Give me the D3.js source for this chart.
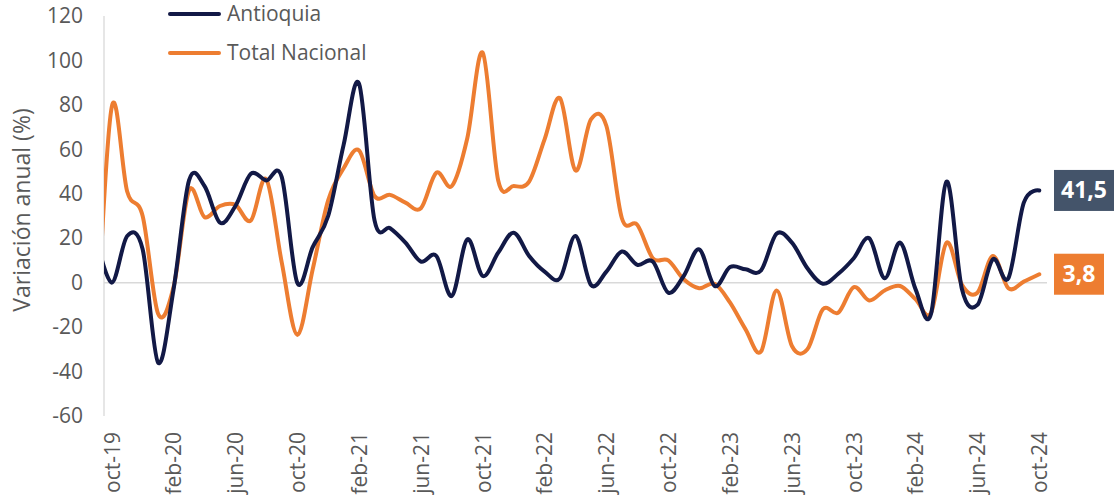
<!DOCTYPE html>
<html>
<head>
<meta charset="utf-8">
<script src="https://cdn.jsdelivr.net/npm/d3@7"></script>
<style>
  html, body { margin: 0; padding: 0; background: #ffffff; }
  svg { display: block; font-family: "Open Sans", sans-serif; }
</style>
</head>
<body>
<svg id="chart" width="1114" height="498"></svg>
<script>
// ---- DATA ----
const categories = [
  "oct-19","nov-19","dic-19","ene-20","feb-20","mar-20","abr-20","may-20","jun-20","jul-20","ago-20","sep-20",
  "oct-20","nov-20","dic-20","ene-21","feb-21","mar-21","abr-21","may-21","jun-21","jul-21","ago-21","sep-21",
  "oct-21","nov-21","dic-21","ene-22","feb-22","mar-22","abr-22","may-22","jun-22","jul-22","ago-22","sep-22",
  "oct-22","nov-22","dic-22","ene-23","feb-23","mar-23","abr-23","may-23","jun-23","jul-23","ago-23","sep-23",
  "oct-23","nov-23","dic-23","ene-24","feb-24","mar-24","abr-24","may-24","jun-24","jul-24","ago-24","sep-24",
  "oct-24"
];
// month before the visible range (line enters clipped from the left edge)
const previousCategory = "sep-19";
const antioquiaPrevious = 20;
const nacionalPrevious = -30;

const antioquia = [
  0, 21, 15, -36, -3, 46, 43.5, 27, 34.5, 49, 46, 47.5,
  0, 16, 30, 62, 89.5, 28, 24.5, 18, 9.5, 12, -6, 19.5,
  3, 13.5, 22.5, 12, 5, 2, 21, -1, 5, 14, 8, 9.5,
  -4.5, 3, 15, -1.5, 7, 6, 5.5, 22, 18, 6.5, -0.5, 4,
  11, 20, 2, 18, -3, -14, 45.5, -3, -10, 10.5, 2, 36,
  41.5
];
const totalNacional = [
  79, 41, 30, -14, -2, 41.5, 29.5, 34.5, 35, 28, 46.5, 9,
  -23.5, 6, 37, 51.5, 59.5, 39, 39.5, 36, 33.5, 49.5, 43.5, 65,
  103.5, 46, 43.5, 45.5, 64.5, 83, 50.5, 73.5, 70.5, 29, 26, 11,
  10, 1.5, -2.5, -0.5, -9, -21, -31, -3.5, -28.5, -30, -12, -13.5,
  -2, -8, -3.5, -1.5, -7.5, -13.5, 18, -1, -4.5, 12, -2.5, 0.5,
  3.8
];
const yTicks = [-60, -40, -20, 0, 20, 40, 60, 80, 100, 120];
const xTickIndex = [0, 4, 8, 12, 16, 20, 24, 28, 32, 36, 40, 44, 48, 52, 56, 60];
const xTickLabels = ["oct-19","feb-20","jun-20","oct-20","feb-21","jun-21","oct-21","feb-22",
                     "jun-22","oct-22","feb-23","jun-23","oct-23","feb-24","jun-24","oct-24"];
const seriesNames = ["Antioquia", "Total Nacional"];
const lastLabels = ["41,5", "3,8"];

// ---- LAYOUT ----
const svg = d3.select("#chart");
const plotLeft = 104, plotRight = 1047, plotTop = 16, plotBottom = 416;
const navy = "#121946", orange = "#ED7D31", slate = "#44546A", textGray = "#595959";
const fontSize = "21px";

const x = d3.scaleLinear().domain([-0.5, categories.length - 0.5]).range([plotLeft, plotRight]);
const y = d3.scaleLinear().domain([-60, 120]).range([plotBottom, plotTop]);

svg.append("defs").append("clipPath").attr("id", "plotclip")
  .append("rect").attr("x", plotLeft).attr("y", 0).attr("width", plotRight - plotLeft).attr("height", 498);

// Y axis line
svg.append("line").attr("x1", plotLeft).attr("x2", plotLeft).attr("y1", y(120)).attr("y2", y(-60))
  .attr("stroke", "#D9D9D9").attr("stroke-width", 1.3);
// zero line
svg.append("line").attr("x1", plotLeft).attr("x2", plotRight).attr("y1", y(0)).attr("y2", y(0))
  .attr("stroke", "#D9D9D9").attr("stroke-width", 1.5);

// Y axis labels
const yAxis = d3.axisLeft(y).tickValues(yTicks).tickSize(0).tickPadding(21).tickFormat(d => String(d));
const gy = svg.append("g").attr("transform", `translate(${plotLeft},0)`).call(yAxis);
gy.select(".domain").remove();
gy.selectAll("text").attr("fill", textGray).style("font-size", fontSize).style("font-family", "Open Sans");

// X axis labels
const xAxis = d3.axisBottom(x).tickValues(xTickIndex).tickSize(0)
  .tickFormat((d, i) => xTickLabels[i]);
const gx = svg.append("g").attr("transform", `translate(0,${plotBottom})`).call(xAxis);
gx.select(".domain").remove();
gx.selectAll("text")
  .attr("fill", textGray).style("font-size", fontSize).style("font-family", "Open Sans")
  .attr("text-anchor", "end").attr("dy", "0.35em")
  .attr("transform", "translate(0,16) rotate(-90)")
  .attr("x", 0).attr("y", 0);

// Y title
svg.append("text").attr("transform", `translate(30,210) rotate(-90)`)
  .attr("text-anchor", "middle").attr("fill", textGray)
  .style("font-size", "23px").text("Variación anual (%)");

// Lines
const buildSeries = (prev, vals) => [{ i: -1, v: prev }].concat(vals.map((v, i) => ({ i, v })));
const line = d3.line().x(d => x(d.i)).y(d => y(d.v)).curve(d3.curveCardinal.tension(0));
const plot = svg.append("g").attr("clip-path", "url(#plotclip)");
plot.append("path").datum(buildSeries(nacionalPrevious, totalNacional))
  .attr("d", line).attr("fill", "none").attr("stroke", orange).attr("stroke-width", 4)
  .attr("stroke-linejoin", "round").attr("stroke-linecap", "round");
plot.append("path").datum(buildSeries(antioquiaPrevious, antioquia))
  .attr("d", line).attr("fill", "none").attr("stroke", navy).attr("stroke-width", 4)
  .attr("stroke-linejoin", "round").attr("stroke-linecap", "round");

// Legend
const legend = [
  { name: seriesNames[0], color: navy, y: 14 },
  { name: seriesNames[1], color: orange, y: 53 }
];
legend.forEach(l => {
  svg.append("line").attr("x1", 170).attr("x2", 219).attr("y1", l.y).attr("y2", l.y)
    .attr("stroke", l.color).attr("stroke-width", 4).attr("stroke-linecap", "round");
  svg.append("text").attr("x", 227).attr("y", l.y).attr("dy", "0.35em")
    .attr("fill", textGray).style("font-size", fontSize).text(l.name);
});

// End labels
const endLabels = [
  { text: lastLabels[0], v: antioquia[antioquia.length - 1], color: slate, w: 60 },
  { text: lastLabels[1], v: totalNacional[totalNacional.length - 1], color: orange, w: 50 }
];
endLabels.forEach(l => {
  const cy = y(l.v);
  svg.append("rect").attr("x", 1054).attr("y", cy - 20.5).attr("width", l.w).attr("height", 41)
    .attr("fill", l.color);
  svg.append("text").attr("x", 1054 + l.w / 2).attr("y", cy).attr("dy", "0.35em")
    .attr("text-anchor", "middle").attr("fill", "#ffffff")
    .style("font-size", "23px").style("font-weight", "bold").text(l.text);
});
</script>
</body>
</html>
